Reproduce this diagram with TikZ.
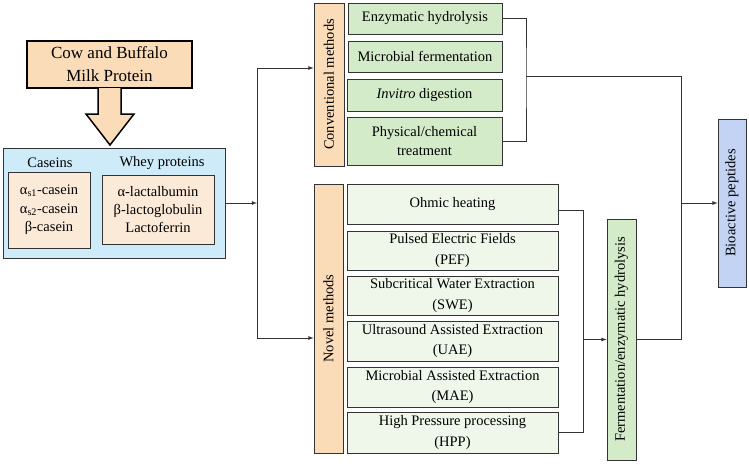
\documentclass[tikz,border=0pt]{standalone}
\usepackage{fontspec}
\setmainfont{Liberation Serif}
\usepackage{tikz}
\usetikzlibrary{arrows}

\definecolor{cowfill}{HTML}{FADCB8}
\definecolor{milkfill}{HTML}{CDEBF8}
\definecolor{protfill}{HTML}{FCEAD8}
\definecolor{convfill}{HTML}{D3EBC8}
\definecolor{novfill}{HTML}{EEF7EA}
\definecolor{biofill}{HTML}{C3D3F4}

\tikzset{
  box/.style={draw=black!80, line width=0.8pt, align=center, inner sep=1pt,
    font=\fontsize{14.5}{19.5}\selectfont},
  convbox/.style={box, fill=convfill, minimum width=154pt},
  novbox/.style={box, fill=novfill, minimum width=211pt, font=\fontsize{14.5}{20.5}\selectfont},
  sidebox/.style={box, rotate=90},
  link/.style={draw=black!80, line width=0.8pt},
}

\begin{document}
\begin{tikzpicture}[x=1pt, y=-1pt, >=latex]
	\useasboundingbox (0,0) rectangle (749,464);
	%% source
	\node[box, fill=cowfill, line width=1.5pt, draw=black, minimum width=165pt, minimum height=47pt,
		font=\fontsize{17}{23}\selectfont] (cow) at (109.5,64.5) {Cow and Buffalo\\Milk Protein};
	\draw[fill=cowfill, line width=1.5pt] (98,88) -- (98,114) -- (86,114) -- (110,145) -- (134,114) -- (121,114) -- (121,88);
	\node[box, fill=milkfill, minimum width=222pt, minimum height=110pt] (milk) at (114,203) {};
	\node[font=\fontsize{14.5}{16.5}\selectfont] (caslab) at (50,163) {Caseins};
	\node[font=\fontsize{14.5}{16.5}\selectfont] (wheylab) at (162,163) {Whey proteins};
	\node[box, fill=protfill, minimum width=82pt, minimum height=76pt, font=\fontsize{14.5}{18.5}\selectfont] (cas) at (49,210)
		{α\textsubscript{s1}-casein\\α\textsubscript{s2}-casein\\β-casein};
	\node[box, fill=protfill, minimum width=112pt, minimum height=69pt, font=\fontsize{14.5}{18}\selectfont] (whey) at (158,209.5)
		{α-lactalbumin\\β-lactoglobulin\\Lactoferrin};
	%% conventional methods
	\node[sidebox, fill=cowfill, minimum width=163pt, minimum height=30pt] (conv) at (329,84.5) {Conventional methods};
	\node[convbox, minimum height=31pt] (enz) at (425,18.5) {Enzymatic hydrolysis};
	\node[convbox, minimum height=31pt] (mic) at (425,56.5) {Microbial fermentation};
	\node[convbox, minimum width=155pt, minimum height=32pt] (inv) at (424.5,95) {\textit{Invitro} digestion};
	\node[convbox, minimum width=155pt, minimum height=48pt] (phys) at (424.5,141) {Physical/chemical\\treatment};
	%% novel methods
	\node[sidebox, fill=cowfill, minimum width=269pt, minimum height=29pt] (novel) at (328.5,318.5) {Novel methods};
	\node[novbox, minimum height=40pt] (ohm) at (452.5,204) {Ohmic heating};
	\node[novbox, minimum height=39pt] (pef) at (452.5,250.5) {Pulsed Electric Fields\\(PEF)};
	\node[novbox, minimum height=39pt] (swe) at (452.5,295.5) {Subcritical Water Extraction\\(SWE)};
	\node[novbox, minimum height=40pt] (uae) at (452.5,341) {Ultrasound Assisted Extraction\\(UAE)};
	\node[novbox, minimum height=40pt] (mae) at (452.5,387) {Microbial Assisted Extraction\\(MAE)};
	\node[novbox, minimum height=41pt] (hpp) at (452.5,432.5) {High Pressure processing\\(HPP)};
	%% outputs
	\node[sidebox, fill=convfill, minimum width=241pt, minimum height=29pt] (ferm) at (621.5,339.5) {Fermentation/enzymatic hydrolysis};
	\node[sidebox, fill=biofill, minimum width=168pt, minimum height=28pt] (bio) at (732,203) {Bioactive peptides};
	%% junctions
	\coordinate (jtop) at (257,68);
	\coordinate (jbot) at (257,338);
	\coordinate (cmid) at (526,76);
	\coordinate (rtop) at (681,76);
	\coordinate (nx) at (583,0);
	%% connectors (rotated boxes: north is left, south is right)
	\draw[link, ->] (milk.east) -- (milk.east -| jtop);
	\draw[link] (jtop) -- (jbot);
	\draw[link, ->] (jtop) -- (jtop -| conv.north);
	\draw[link, ->] (jbot) -- (jbot -| novel.north);
	\draw[link] (enz.east) -| (cmid) |- (phys.east);
	\draw[link] (cmid) -- (rtop) |- (ferm.south);
	\draw[link, ->] (bio.north -| rtop) -- (bio.north);
	\draw[link] ([yshift=-6pt]ohm.east) -| (nx |- hpp.east) -- (hpp.east);
	\draw[link, ->] (nx |- ferm.north) -- (ferm.north);
\end{tikzpicture}
\end{document}
